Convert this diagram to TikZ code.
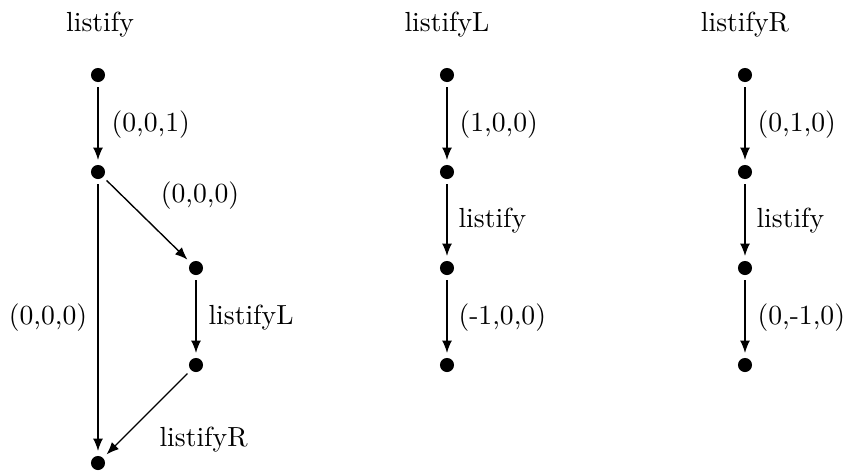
\documentclass[tikz,border=0pt]{standalone}
\usetikzlibrary{arrows.meta}
\begin{document}
\begin{tikzpicture}[x=0.362pt,y=-0.362pt,
  dot/.style={circle,fill=black,inner sep=0pt,minimum size=5.1pt,outer sep=1.8pt},
  edge/.style={-{Latex[length=4.5pt,width=3.6pt]},line width=0.5pt},
  lbl/.style={inner sep=0pt,font=\normalsize},
  rl/.style={lbl,anchor=west}]
\useasboundingbox (0,0) rectangle (846,475);
% titles
\node[lbl] (t1) at (100,25) {listify};
\node[lbl] (t2) at (447,25) {listifyL};
\node[lbl] (t3) at (745,25) {listifyR};
% listify
\node[dot] (a1) at (98,75) {};
\node[dot] (a2) at (98,172) {};
\node[dot] (a3) at (196,268) {};
\node[dot] (a4) at (196,365) {};
\node[dot] (a5) at (98,463) {};
\draw[edge] (a1) -- (a2);
\draw[edge] (a2) -- (a3);
\draw[edge] (a3) -- (a4);
\draw[edge] (a4) -- (a5);
\draw[edge] (a2) -- (a5);
\node[rl] (l1) at (111,125) {(0,0,1)};
\node[lbl] (l2) at (200,196) {(0,0,0)};
\node[lbl] (l3) at (48,318) {(0,0,0)};
\node[rl] (l4) at (208,318) {listifyL};
\node[rl] (l5) at (159,440) {listifyR};
% listifyL
\node[dot] (b1) at (447,75) {};
\node[dot] (b2) at (447,172) {};
\node[dot] (b3) at (447,268) {};
\node[dot] (b4) at (447,365) {};
\draw[edge] (b1) -- (b2);
\draw[edge] (b2) -- (b3);
\draw[edge] (b3) -- (b4);
\node[rl] (m1) at (459,125) {(1,0,0)};
\node[rl] (m2) at (458,221) {listify};
\node[rl] (m3) at (458,318) {(-1,0,0)};
% listifyR
\node[dot] (c1) at (745,75) {};
\node[dot] (c2) at (745,172) {};
\node[dot] (c3) at (745,268) {};
\node[dot] (c4) at (745,365) {};
\draw[edge] (c1) -- (c2);
\draw[edge] (c2) -- (c3);
\draw[edge] (c3) -- (c4);
\node[rl] (n1) at (757,125) {(0,1,0)};
\node[rl] (n2) at (756,221) {listify};
\node[rl] (n3) at (757,318) {(0,-1,0)};
\end{tikzpicture}
\end{document}
